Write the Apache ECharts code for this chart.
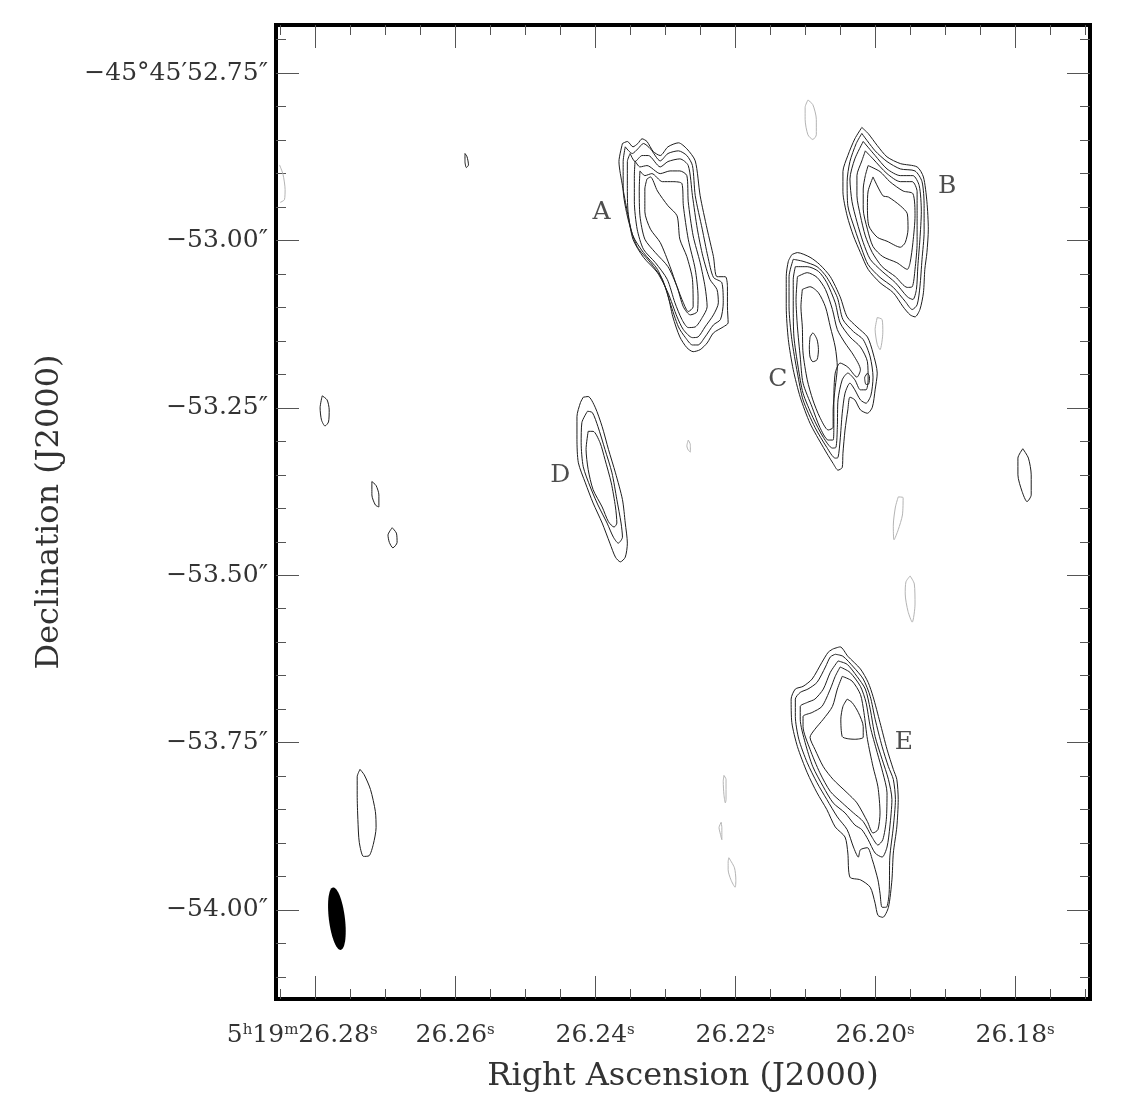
<!DOCTYPE html>
<html>
<head>
<meta charset="utf-8">
<title>Contour map</title>
<script src="https://cdn.jsdelivr.net/npm/echarts@6/dist/echarts.min.js"></script>
<style>
  html, body { margin: 0; padding: 0; background: #fff; }
  #chart { width: 1122px; height: 1112px; }
</style>
</head>
<body>
<div id="chart"></div>
<script>
// RA in ms after 5h19m26s, Dec in mas relative to -45°45'53"
const RA_MIN = 169.3, RA_MAX = 285.6
const DEC_MIN = -1133, DEC_MAX = 322
const RA_MAJOR = [280, 260, 240, 220, 200, 180]
const RA_MINOR = [285, 275, 270, 265, 255, 250, 245, 235, 230, 225, 215, 210, 205, 195, 190, 185, 175, 170]
const DEC_MAJOR = [250, 0, -250, -500, -750, -1000]
const DEC_MINOR = [300, 200, 150, 100, 50, -50, -100, -150, -200, -300, -350, -400, -450,
  -550, -600, -650, -700, -800, -850, -900, -950, -1050, -1100]

// contour rings, flat [ra, dec, ra, dec, ...]
const SRC_A = [
  [236.1,145, 235.4,148, 234.6,140, 233.9,145, 233.3,152, 232.6,148, 231.7,133, 230.7,127, 229.6,140, 228.1,146, 226.9,137, 225.7,119, 225.0,67, 224.0,17, 223.1,-24, 222.6,-54, 221.4,-54, 221.1,-69, 221.1,-99, 221.0,-123, 221.7,-129, 223.1,-138, 224.0,-153, 225.0,-163, 226.0,-166, 226.9,-160, 227.9,-144, 228.9,-114, 229.7,-78, 231.1,-43, 233.1,-18, 234.6,7, 235.4,43, 236.1,82, 236.6,118],
  [235.7,140, 234.7,130, 233.9,137, 233.1,145, 232.1,137, 230.7,119, 229.6,130, 228.1,134, 226.9,127, 226.1,112, 225.7,67, 224.7,17, 223.9,-24, 223.1,-55, 221.9,-63, 221.7,-93, 222.1,-118, 223.1,-126, 224.3,-144, 225.3,-156, 226.1,-156, 227.1,-145, 228.1,-129, 229.3,-93, 230.4,-58, 232.1,-33, 234.0,-9, 235.3,32, 236.0,77, 236.0,118],
  [235.0,130, 234.3,118, 233.3,127, 232.4,127, 230.7,110, 229.6,118, 227.9,122, 226.7,112, 226.1,67, 225.4,17, 224.6,-24, 223.6,-58, 222.6,-73, 222.4,-93, 223.1,-111, 224.3,-129, 225.3,-144, 226.1,-145, 227.4,-133, 228.3,-114, 229.6,-78, 231.1,-48, 233.1,-25, 234.6,2, 235.3,43, 235.4,82, 235.4,118],
  [234.3,119, 233.6,110, 232.6,112, 230.7,100, 229.3,104, 227.9,104, 226.9,97, 226.7,58, 226.0,7, 225.0,-33, 224.3,-69, 224.0,-99, 224.7,-115, 225.7,-129, 226.7,-130, 227.6,-118, 228.6,-93, 229.7,-58, 231.4,-33, 233.1,-13, 234.0,17, 234.4,58, 234.4,97],
  [233.6,104, 232.9,97, 231.9,100, 230.4,88, 228.9,88, 227.6,85, 227.4,52, 226.7,2, 225.7,-43, 225.3,-84, 225.4,-106, 226.4,-111, 227.4,-99, 228.3,-69, 229.6,-39, 231.4,-18, 232.9,2, 233.6,37, 233.7,77],
  [232.6,92, 232.1,95, 231.1,74, 229.6,52, 228.3,37, 227.9,2, 226.9,-24, 226.1,-58, 226.0,-99, 226.7,-106, 227.4,-93, 228.3,-69, 229.3,-39, 230.7,-3, 232.1,17, 232.9,43, 232.9,77]
]

const SRC_B = [
  [201.9,169, 201.0,160, 199.7,142, 198.3,125, 196.4,115, 194.0,110, 193.1,95, 192.6,58, 192.4,17, 192.6,-18, 192.9,-43, 193.1,-78, 193.6,-103, 194.3,-114, 195.0,-111, 196.0,-99, 197.4,-78, 199.3,-63, 201.0,-43, 202.1,-18, 203.1,7, 204.0,37, 204.6,73, 204.6,103, 203.9,127, 202.9,152],
  [201.9,160, 200.0,134, 198.3,118, 196.4,107, 194.3,104, 193.3,88, 193.0,52, 193.0,13, 193.3,-28, 193.6,-69, 194.0,-96, 194.7,-103, 195.7,-91, 197.4,-70, 199.3,-55, 201.0,-36, 201.9,-13, 202.9,17, 203.9,52, 204.0,88, 203.6,118, 202.7,145],
  [201.7,148, 200.0,127, 198.3,107, 196.4,97, 194.6,97, 193.7,82, 193.4,43, 193.6,2, 193.9,-39, 194.1,-73, 194.6,-88, 195.4,-84, 197.1,-63, 199.0,-46, 200.7,-28, 201.7,-3, 202.6,28, 203.3,58, 203.6,92, 202.9,122],
  [201.4,134, 200.3,122, 198.3,100, 196.4,88, 194.7,88, 194.0,73, 194.0,37, 194.0,-3, 194.3,-43, 194.7,-69, 195.4,-70, 197.1,-54, 199.0,-39, 200.4,-18, 201.4,7, 202.1,37, 202.6,67, 202.6,97, 201.9,119],
  [201.0,112, 199.3,103, 197.9,88, 196.0,74, 194.6,70, 194.3,37, 194.6,-3, 195.0,-33, 195.4,-43, 196.9,-33, 198.9,-24, 200.3,-9, 201.1,17, 201.7,47, 201.7,77, 201.4,97],
  [200.3,95, 198.9,67, 198.1,65, 196.4,52, 195.4,40, 195.3,17, 195.7,-3, 196.4,-10, 198.3,-1, 199.7,5, 200.9,22, 201.1,52, 201.0,74]
]

const SRC_C = [
  [211.9,-21, 211.1,-18, 209.3,-25, 207.9,-36, 206.4,-54, 205.0,-84, 204.0,-114, 202.6,-129, 201.1,-144, 200.3,-168, 199.7,-198, 200.0,-223, 200.4,-249, 201.1,-258, 202.1,-253, 202.9,-238, 203.6,-234, 203.9,-253, 204.3,-283, 204.6,-318, 204.7,-339, 205.3,-343, 206.0,-333, 207.4,-309, 209.3,-273, 210.7,-234, 211.7,-193, 212.4,-148, 212.7,-99, 212.7,-54, 212.4,-31],
  [211.7,-28, 210.3,-31, 208.3,-39, 206.9,-55, 205.4,-85, 204.6,-118, 203.1,-136, 201.7,-148, 200.7,-174, 200.3,-204, 200.6,-231, 201.3,-243, 202.1,-238, 202.9,-223, 203.6,-213, 204.3,-228, 204.7,-258, 205.0,-298, 205.3,-324, 205.7,-325, 206.9,-309, 208.6,-279, 210.3,-238, 211.1,-198, 211.9,-148, 212.3,-99, 212.3,-54],
  [211.4,-39, 209.7,-39, 208.1,-46, 206.9,-63, 205.7,-93, 205.0,-123, 203.6,-144, 202.1,-159, 201.1,-181, 201.0,-208, 201.3,-223, 202.1,-223, 202.9,-208, 203.9,-198, 204.7,-208, 205.3,-238, 205.4,-279, 205.6,-309, 206.1,-310, 207.4,-294, 208.9,-264, 210.3,-228, 211.0,-189, 211.6,-144, 211.7,-99, 211.7,-58],
  [211.1,-54, 209.7,-48, 208.3,-55, 207.1,-73, 206.1,-103, 205.4,-133, 204.3,-153, 203.1,-171, 202.1,-193, 202.6,-204, 203.9,-189, 205.0,-183, 205.7,-198, 205.9,-238, 205.9,-279, 206.0,-298, 206.7,-298, 207.9,-279, 209.0,-249, 210.3,-213, 210.7,-174, 211.1,-129, 211.3,-88],
  [210.4,-73, 209.3,-69, 208.1,-78, 207.1,-99, 206.4,-129, 205.7,-159, 205.4,-189, 205.7,-219, 206.0,-253, 206.0,-279, 206.7,-283, 207.9,-264, 208.9,-238, 209.7,-208, 210.3,-168, 210.4,-129, 210.6,-99],
  [209.3,-144, 208.9,-138, 208.3,-148, 208.1,-163, 208.3,-178, 208.9,-181, 209.3,-174, 209.4,-159],
  [201.1,-198, 200.8,-203, 200.9,-214, 201.3,-215, 201.5,-205]
]

const SRC_D = [
  [241.7,-234, 241.0,-233, 240.0,-249, 239.0,-278, 238.1,-312, 237.1,-347, 236.1,-387, 235.7,-422, 235.4,-452, 235.7,-473, 236.4,-480, 237.1,-473, 237.9,-452, 239.0,-422, 240.3,-392, 241.4,-362, 242.4,-332, 242.6,-297, 242.6,-263, 242.1,-242],
  [241.1,-255, 240.4,-257, 239.6,-278, 238.6,-312, 237.6,-347, 236.9,-387, 236.3,-422, 236.1,-443, 236.7,-452, 237.4,-443, 238.3,-422, 239.6,-395, 240.7,-368, 241.7,-338, 242.0,-302, 241.9,-272],
  [241.0,-285, 240.3,-285, 239.3,-302, 238.6,-327, 237.7,-362, 237.1,-398, 236.9,-422, 237.3,-428, 238.1,-420, 239.0,-398, 240.3,-372, 241.0,-342, 241.3,-312]
]

const SRC_E = [
  [206.0,-610, 205.0,-607, 203.9,-621, 202.1,-640, 201.0,-660, 200.3,-681, 199.3,-720, 198.3,-760, 197.4,-790, 196.9,-805, 196.7,-835, 196.9,-876, 197.4,-915, 197.6,-955, 198.1,-996, 198.9,-1011, 199.6,-1008, 200.0,-990, 200.7,-966, 202.1,-955, 203.6,-951, 203.9,-915, 204.3,-891, 205.7,-876, 206.9,-850, 208.3,-825, 209.7,-795, 211.1,-756, 211.9,-720, 212.0,-685, 211.4,-670, 210.3,-666, 209.0,-655, 207.6,-630, 206.7,-615],
  [205.7,-618, 204.6,-621, 203.1,-637, 201.7,-655, 200.7,-681, 200.0,-715, 199.0,-756, 198.1,-786, 197.4,-805, 197.1,-835, 197.4,-876, 197.9,-921, 198.0,-975, 198.4,-996, 199.0,-996, 199.3,-975, 199.6,-955, 200.4,-925, 201.1,-907, 202.1,-910, 202.4,-921, 203.1,-906, 204.0,-880, 205.4,-861, 206.9,-835, 208.3,-810, 209.7,-780, 210.9,-745, 211.4,-711, 211.4,-685, 210.7,-675, 209.6,-670, 208.3,-660, 207.1,-637, 206.4,-622],
  [205.3,-628, 204.0,-633, 202.6,-651, 201.4,-670, 200.7,-700, 200.0,-741, 199.0,-775, 198.1,-805, 197.6,-835, 197.9,-876, 198.3,-906, 199.0,-921, 200.0,-915, 201.0,-895, 201.9,-880, 202.9,-873, 204.3,-855, 206.0,-840, 207.4,-816, 208.9,-786, 210.0,-750, 210.7,-715, 210.7,-696, 209.7,-690, 208.6,-685, 207.4,-670, 206.4,-645],
  [205.0,-637, 203.6,-645, 202.1,-666, 201.3,-690, 200.7,-726, 199.7,-765, 198.9,-795, 198.3,-825, 198.4,-865, 198.9,-895, 199.6,-903, 200.4,-892, 201.7,-868, 203.1,-855, 204.7,-840, 206.4,-823, 207.9,-795, 209.3,-760, 210.3,-726, 210.3,-711, 209.0,-705, 207.6,-696, 206.4,-670, 205.7,-651],
  [204.7,-651, 203.3,-658, 202.1,-678, 201.6,-705, 201.1,-745, 200.3,-786, 199.6,-816, 199.3,-855, 199.6,-880, 200.3,-885, 201.1,-868, 202.6,-840, 204.0,-825, 206.0,-805, 207.4,-786, 208.6,-760, 209.3,-742, 208.6,-730, 207.4,-715, 206.1,-696, 205.4,-670],
  [204.0,-685, 203.3,-690, 202.4,-705, 201.7,-726, 201.7,-742, 202.9,-745, 204.0,-744, 204.7,-741, 204.9,-715, 204.6,-696]
]

// weak positive islands
const POS_SMALL = [
  [258.6,130, 258.3,125, 258.1,113, 258.4,109, 258.6,118],
  [279.0,-232, 278.3,-238, 278.0,-253, 278.1,-271, 278.6,-277, 279.1,-268, 279.3,-250],
  [271.9,-360, 271.3,-366, 270.9,-380, 270.9,-398, 271.4,-395, 271.9,-380],
  [269.0,-429, 268.4,-437, 268.3,-451, 268.9,-459, 269.4,-451, 269.6,-440],
  [178.9,-311, 178.1,-325, 177.7,-350, 177.7,-380, 178.3,-390, 179.0,-375, 179.6,-350, 179.6,-325],
  [273.6,-790, 273.0,-798, 272.1,-820, 271.4,-853, 271.3,-877, 271.7,-902, 272.3,-919, 273.1,-920, 273.7,-899, 273.9,-865, 274.0,-828, 274.0,-801]
]

// negative contours (grey)
const NEG = [
  [209.6,210, 208.9,203, 208.4,181, 208.4,158, 208.9,151, 209.6,158, 210.0,181, 210.0,199],
  [199.7,-115, 199.0,-118, 198.9,-137, 199.3,-163, 199.7,-155, 200.0,-133],
  [226.7,-298, 226.4,-305, 226.4,-316, 226.7,-313, 226.9,-307],
  [196.7,-383, 196.0,-384, 196.1,-410, 196.7,-432, 197.3,-447, 197.4,-425, 197.1,-398],
  [195.0,-501, 194.4,-513, 194.3,-543, 194.7,-570, 195.3,-554, 195.7,-528, 195.6,-510],
  [221.6,-799, 221.3,-805, 221.3,-835, 221.4,-840, 221.6,-828, 221.7,-808],
  [222.0,-869, 221.9,-877, 221.9,-895, 222.1,-887, 222.3,-877],
  [220.9,-922, 220.1,-937, 219.9,-955, 220.0,-966, 220.6,-955, 221.0,-940, 221.0,-928]
]
const NEG_EDGE = [285.1,113, 284.6,99, 284.3,76, 284.4,61, 285.0,57]

const SOURCE_LABELS = [
  [239.1, 42, 'A'], [189.7, 81, 'B'], [213.9, -207, 'C'], [245.0, -351, 'D'], [195.9, -750, 'E']
]

// restoring beam: centre, major/minor (mas), position angle (deg E of N)
const BEAM = { ra: 276.9, dec: -1013, major: 94, minor: 24, pa: 7 }
const MAS_PER_MS = 15 * Math.cos((45 + 45 / 60 + 53 / 3600) * Math.PI / 180)

const FONT = 'DejaVu Serif'
const TEXT = '#333'

const toPoints = (flat, close) => {
  const pts = []
  for (let i = 0; i < flat.length; i += 2) pts.push([flat[i], flat[i + 1]])
  if (close) pts.push(pts[0])
  return pts
}

const contourSeries = (rings, color, close = true) => rings.map(r => ({
  type: 'line',
  data: toPoints(r, close),
  symbol: 'none',
  smooth: 0.25,
  silent: true,
  animation: false,
  lineStyle: { color: color, width: 1 },
  z: 3
}))

const raLabel = v => {
  const s = (26 + v / 1000).toFixed(2)
  return v === 280 ? '5{s|h}19{s|m}' + s + '{s|s}{gap|}' : s + '{s|s}'
}
const decLabel = v => {
  const s = Math.abs(-53 + v / 1000).toFixed(2)
  return v === 250 ? '\u221245\u00b045\u2032' + s + '\u2033' : '\u2212' + s + '\u2033'
}

const tickStyle = { color: '#555', width: 1 }

const makeX = (pos, values, len, extra) => Object.assign({
  type: 'value', gridIndex: 0, position: pos, min: RA_MIN, max: RA_MAX, inverse: true,
  axisLine: { show: false, onZero: false }, splitLine: { show: false }, axisLabel: { show: false },
  axisTick: { show: true, inside: true, length: len, customValues: values, lineStyle: tickStyle }
}, extra || {})

const makeY = (pos, values, len, extra) => Object.assign({
  type: 'value', gridIndex: 0, position: pos, min: DEC_MIN, max: DEC_MAX,
  axisLine: { show: false, onZero: false }, splitLine: { show: false }, axisLabel: { show: false },
  axisTick: { show: true, inside: true, length: len, customValues: values, lineStyle: tickStyle }
}, extra || {})

const chart = echarts.init(document.getElementById('chart'), null, { renderer: 'canvas' })

const option = {
  backgroundColor: '#fff',
  animation: false,
  grid: {
    left: 276, right: 32, top: 25, bottom: 113,
    show: true, borderColor: '#000', borderWidth: 4, backgroundColor: 'transparent'
  },
  xAxis: [
    makeX('bottom', RA_MAJOR, 23, {
      axisLabel: {
        show: true, customValues: RA_MAJOR, formatter: raLabel, margin: 24,
        fontFamily: FONT, fontSize: 25, color: TEXT,
        rich: {
          s: { fontFamily: FONT, fontSize: 15, color: TEXT, verticalAlign: 'top' },
          gap: { width: 26 }
        }
      },
      name: 'Right Ascension (J2000)', nameLocation: 'middle', nameGap: 62,
      nameTextStyle: { fontFamily: FONT, fontSize: 32, color: TEXT }
    }),
    makeX('bottom', RA_MINOR, 10),
    makeX('top', RA_MAJOR, 23),
    makeX('top', RA_MINOR, 10)
  ],
  yAxis: [
    makeY('left', DEC_MAJOR, 23, {
      axisLabel: {
        show: true, customValues: DEC_MAJOR, formatter: decLabel, margin: 8,
        fontFamily: FONT, fontSize: 25, color: TEXT
      },
      name: 'Declination (J2000)', nameLocation: 'middle', nameGap: 210,
      nameTextStyle: { fontFamily: FONT, fontSize: 32, color: TEXT }
    }),
    makeY('left', DEC_MINOR, 10),
    makeY('right', DEC_MAJOR, 23),
    makeY('right', DEC_MINOR, 10)
  ],
  series: [
    ...contourSeries(NEG, '#b4b4b4'),
    ...contourSeries([NEG_EDGE], '#b4b4b4', false),
    ...contourSeries(SRC_A, '#1e1e1e'),
    ...contourSeries(SRC_B, '#1e1e1e'),
    ...contourSeries(SRC_C, '#1e1e1e'),
    ...contourSeries(SRC_D, '#1e1e1e'),
    ...contourSeries(SRC_E, '#1e1e1e'),
    ...contourSeries(POS_SMALL, '#1e1e1e'),
    {
      type: 'custom',
      silent: true,
      data: [[BEAM.ra, BEAM.dec]],
      renderItem: (params, api) => {
        const pa = BEAM.pa * Math.PI / 180
        const pts = []
        for (let k = 0; k < 60; k++) {
          const t = k / 60 * 2 * Math.PI
          const a = BEAM.major / 2 * Math.cos(t)
          const b = BEAM.minor / 2 * Math.sin(t)
          const east = a * Math.sin(pa) + b * Math.cos(pa)
          const north = a * Math.cos(pa) - b * Math.sin(pa)
          pts.push(api.coord([api.value(0) + east / MAS_PER_MS, api.value(1) + north]))
        }
        return { type: 'polygon', shape: { points: pts }, style: { fill: '#000' } }
      },
      z: 4
    },
    {
      type: 'scatter',
      silent: true,
      symbolSize: 0,
      data: SOURCE_LABELS,
      label: {
        show: true, position: 'inside', formatter: p => p.data[2],
        fontFamily: FONT, fontSize: 25, color: '#222'
      },
      z: 5
    }
  ]
}

chart.setOption(option)
window.addEventListener('resize', chart.resize)
</script>
</body>
</html>
